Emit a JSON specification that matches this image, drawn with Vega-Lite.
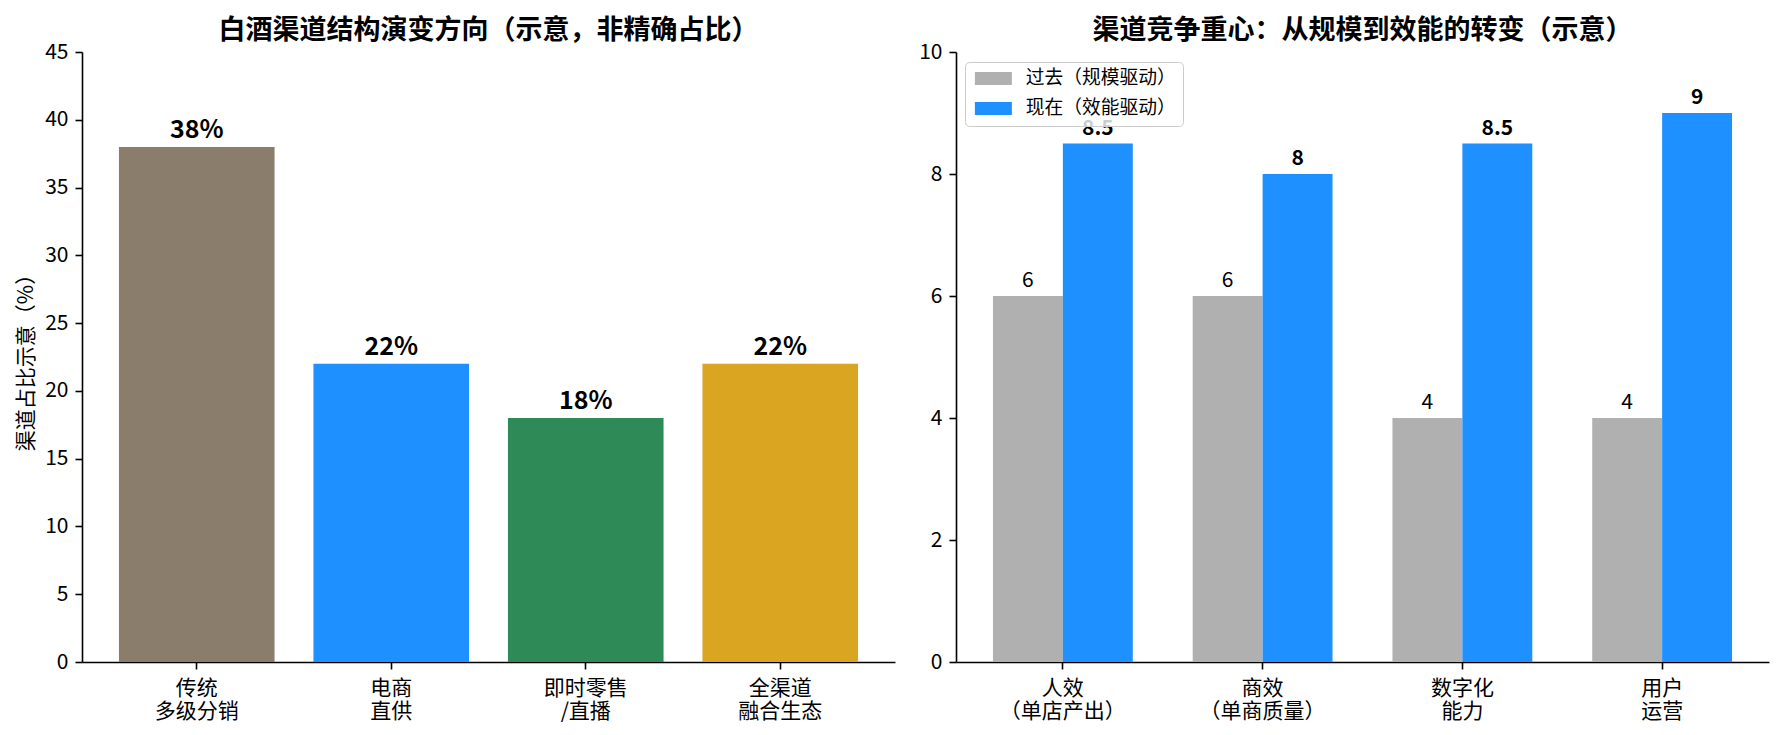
{
  "$schema": "https://vega.github.io/schema/vega-lite/v6.json",
  "background": "white",
  "padding": {"left": 15, "top": 17, "right": 10, "bottom": 10},
  "spacing": 61,
  "bounds": "flush",
  "config": {
    "font": "Noto Sans CJK SC",
    "view": {"stroke": null},
    "axis": {
      "domainColor": "#000",
      "domainWidth": 1.6,
      "tickColor": "#000",
      "tickWidth": 1.6,
      "tickSize": 7,
      "labelColor": "#000",
      "labelFontSize": 21,
      "labelPadding": 7,
      "grid": false,
      "titleColor": "#000",
      "titleFontSize": 21,
      "titleFontWeight": "normal"
    },
    "title": {"fontSize": 27, "fontWeight": "bold", "color": "#000", "anchor": "middle", "frame": "group", "offset": -4}
  },
  "datasets": {
    "channels": [
      {"channel": "传统\n多级分销", "share": 38},
      {"channel": "电商\n直供", "share": 22},
      {"channel": "即时零售\n/直播", "share": 18},
      {"channel": "全渠道\n融合生态", "share": 22}
    ],
    "focus": [
      {"dimension": "人效\n（单店产出）", "period": "过去（规模驱动）", "score": 6},
      {"dimension": "人效\n（单店产出）", "period": "现在（效能驱动）", "score": 8.5},
      {"dimension": "商效\n（单商质量）", "period": "过去（规模驱动）", "score": 6},
      {"dimension": "商效\n（单商质量）", "period": "现在（效能驱动）", "score": 8},
      {"dimension": "数字化\n能力", "period": "过去（规模驱动）", "score": 4},
      {"dimension": "数字化\n能力", "period": "现在（效能驱动）", "score": 8.5},
      {"dimension": "用户\n运营", "period": "过去（规模驱动）", "score": 4},
      {"dimension": "用户\n运营", "period": "现在（效能驱动）", "score": 9}
    ]
  },
  "resolve": {"scale": {"color": "independent"}, "legend": {"color": "independent"}},
  "hconcat": [
    {
      "width": 813,
      "height": 610,
      "title": "白酒渠道结构演变方向（示意，非精确占比）",
      "data": {"name": "channels"},
      "encoding": {
        "x": {
          "field": "channel",
          "type": "nominal",
          "sort": null,
          "scale": {"paddingInner": 0.2, "paddingOuter": 0.19},
          "axis": {"title": null, "labelAngle": 0, "labelExpr": "split(datum.label, '\\n')", "labelLineHeight": 23, "labelBaseline": "top", "labelPadding": 8}
        },
        "y": {
          "field": "share",
          "type": "quantitative",
          "scale": {"domain": [0, 45], "nice": false},
          "axis": {"title": "渠道占比示意（%）", "values": [0, 5, 10, 15, 20, 25, 30, 35, 40, 45], "titlePadding": 8}
        }
      },
      "layer": [
        {
          "mark": {"type": "bar"},
          "encoding": {
            "color": {
              "field": "channel",
              "type": "nominal",
              "sort": null,
              "scale": {"range": ["#8B7D6B", "#1E90FF", "#2E8B57", "#DAA520"]},
              "legend": null
            }
          }
        },
        {
          "transform": [{"calculate": "datum.share + '%'", "as": "label"}],
          "mark": {"type": "text", "fontSize": 25, "fontWeight": "bold", "baseline": "alphabetic", "dy": -9, "color": "#000"},
          "encoding": {"text": {"field": "label", "type": "nominal"}}
        }
      ]
    },
    {
      "width": 813,
      "height": 610,
      "title": "渠道竞争重心：从规模到效能的转变（示意）",
      "data": {"name": "focus"},
      "encoding": {
        "x": {
          "field": "dimension",
          "type": "nominal",
          "sort": null,
          "scale": {"paddingInner": 0.3, "paddingOuter": 0.185},
          "axis": {"title": null, "labelAngle": 0, "labelExpr": "split(datum.label, '\\n')", "labelLineHeight": 23, "labelBaseline": "top", "labelPadding": 8}
        },
        "xOffset": {
          "field": "period",
          "type": "nominal",
          "scale": {"domain": ["过去（规模驱动）", "现在（效能驱动）"], "paddingInner": 0, "paddingOuter": 0}
        },
        "y": {
          "field": "score",
          "type": "quantitative",
          "scale": {"domain": [0, 10], "nice": false},
          "axis": {"title": null, "values": [0, 2, 4, 6, 8, 10]}
        }
      },
      "layer": [
        {
          "mark": {"type": "bar"},
          "encoding": {
            "color": {
              "field": "period",
              "type": "nominal",
              "scale": {"domain": ["过去（规模驱动）", "现在（效能驱动）"], "range": ["#B0B0B0", "#1E90FF"]},
              "legend": {
                "title": null,
                "orient": "none",
                "legendX": 9,
                "legendY": 10,
                "symbolType": "M-2.846,-1L2.846,-1L2.846,1L-2.846,1Z",
                "symbolSize": 169,
                "symbolOffset": 12,
                "symbolStrokeWidth": 0,
                "labelFontSize": 18.75,
                "labelColor": "#000",
                "labelOffset": 23,
                "rowPadding": 10,
                "padding": 7,
                "fillColor": "rgba(255,255,255,0.8)",
                "strokeColor": "#cccccc",
                "cornerRadius": 4
              }
            }
          }
        },
        {
          "transform": [{"filter": "datum.period === '过去（规模驱动）'"}],
          "mark": {"type": "text", "fontSize": 21, "baseline": "alphabetic", "dy": -9, "color": "#000"},
          "encoding": {"text": {"field": "score", "type": "quantitative", "format": "~g"}}
        },
        {
          "transform": [{"filter": "datum.period === '现在（效能驱动）'"}],
          "mark": {"type": "text", "fontSize": 21, "fontWeight": "bold", "baseline": "alphabetic", "dy": -9, "color": "#000"},
          "encoding": {"text": {"field": "score", "type": "quantitative", "format": "~g"}}
        }
      ]
    }
  ]
}
